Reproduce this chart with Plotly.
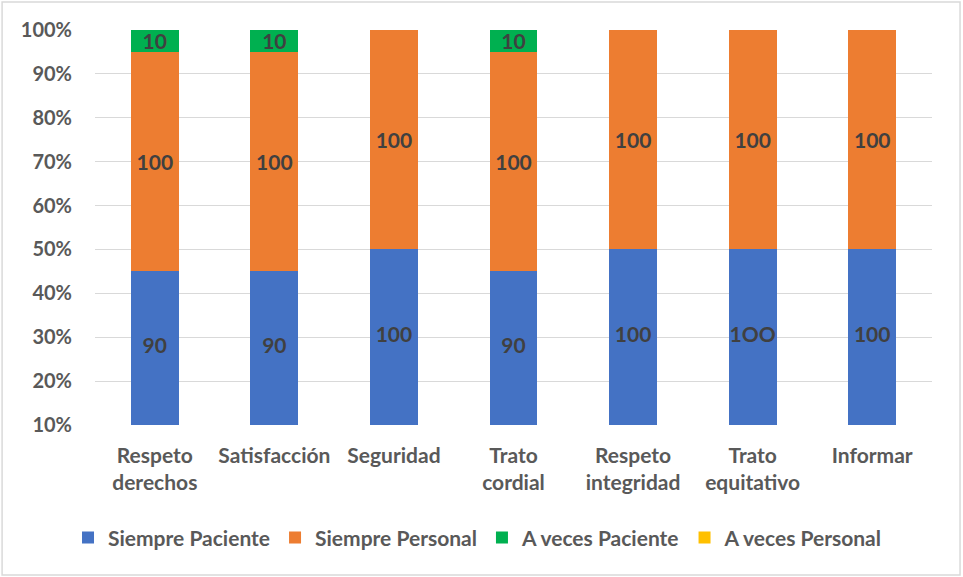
import plotly.graph_objects as go

categories = ["Respeto<br>derechos", "Satisfacción", "Seguridad", "Trato<br>cordial",
              "Respeto<br>integridad", "Trato<br>equitativo", "Informar"]
siempre_paciente = [90, 90, 100, 90, 100, 100, 100]
siempre_personal = [100, 100, 100, 100, 100, 100, 100]
a_veces_paciente = [10, 10, 0, 10, 0, 0, 0]
a_veces_personal = [0, 0, 0, 0, 0, 0, 0]
label_paciente = ["90", "90", "100", "90", "100", "1OO", "100"]
series_names = ["Siempre Paciente", "Siempre Personal", "A veces Paciente", "A veces Personal"]
colors = ["#4472C4", "#ED7D31", "#00B050", "#FFC000"]
ytick_vals = [0.1, 0.2, 0.3, 0.4, 0.5, 0.6, 0.7, 0.8, 0.9, 1.0]
y_min = 0.1

FONT = "Lato"
LABEL_FONT = dict(family=FONT, size=21, color="#404040", weight="bold")
series = [siempre_paciente, siempre_personal, a_veces_paciente, a_veces_personal]
texts = [["" for _ in label_paciente],
         [str(v) for v in siempre_personal],
         [str(v) if v else "" for v in a_veces_paciente],
         ["" for _ in a_veces_personal]]

fig = go.Figure()
for name, vals, col, txt in zip(series_names, series, colors, texts):
    fig.add_trace(go.Bar(
        x=categories, y=vals, name=name, marker_color=col, marker_line_width=0,
        text=txt, textposition="inside", insidetextanchor="middle",
        constraintext="none", textfont=LABEL_FONT,
        textangle=0, hoverinfo="skip",
    ))

# labels of the bottom segment, centred on its visible part (axis starts at 10%)
totals = [a + b + c + d for a, b, c, d in zip(*series)]
mid_blue = [(y_min + v / t) / 2 for v, t in zip(siempre_paciente, totals)]
fig.add_trace(go.Scatter(
    x=categories, y=mid_blue, mode="text", text=label_paciente,
    textfont=LABEL_FONT, showlegend=False, hoverinfo="skip", cliponaxis=False,
))

fig.update_layout(
    barmode="stack", barnorm="fraction", bargap=0.6,
    width=963, height=577,
    margin=dict(l=95, r=31, t=30, b=152),
    paper_bgcolor="white", plot_bgcolor="white",
    font=dict(family=FONT, size=20, color="#595959", weight="bold"),
    uniformtext=dict(mode=False),
    legend=dict(orientation="h", x=0.457, xanchor="center", y=-0.286, yanchor="middle",
                font=dict(family=FONT, size=21, color="#595959", weight="bold"),
                itemwidth=30, traceorder="normal", tracegroupgap=0),
    showlegend=True,
)
fig.update_yaxes(range=[y_min, 1.0], tickvals=ytick_vals, tickformat=".0%",
                 gridcolor="#D9D9D9", gridwidth=1, zeroline=False, showline=False,
                 ticks="", ticklabelstandoff=22,
                 tickfont=dict(family=FONT, size=20, color="#595959", weight="bold"))
fig.update_xaxes(showgrid=False, showline=False, ticks="", ticklabelstandoff=16,
                 tickfont=dict(family=FONT, size=21, color="#595959", weight="bold"))

fig.add_shape(type="rect", xref="paper", yref="paper",
              x0=-0.111, x1=1.0335, y0=-0.3797, y1=1.0709,
              line=dict(color="#D9D9D9", width=1.5), fillcolor="rgba(0,0,0,0)", layer="below")

fig.write_html("out.html", config={"displayModeBar": False},
               post_script="document.body.style.margin='0';")
